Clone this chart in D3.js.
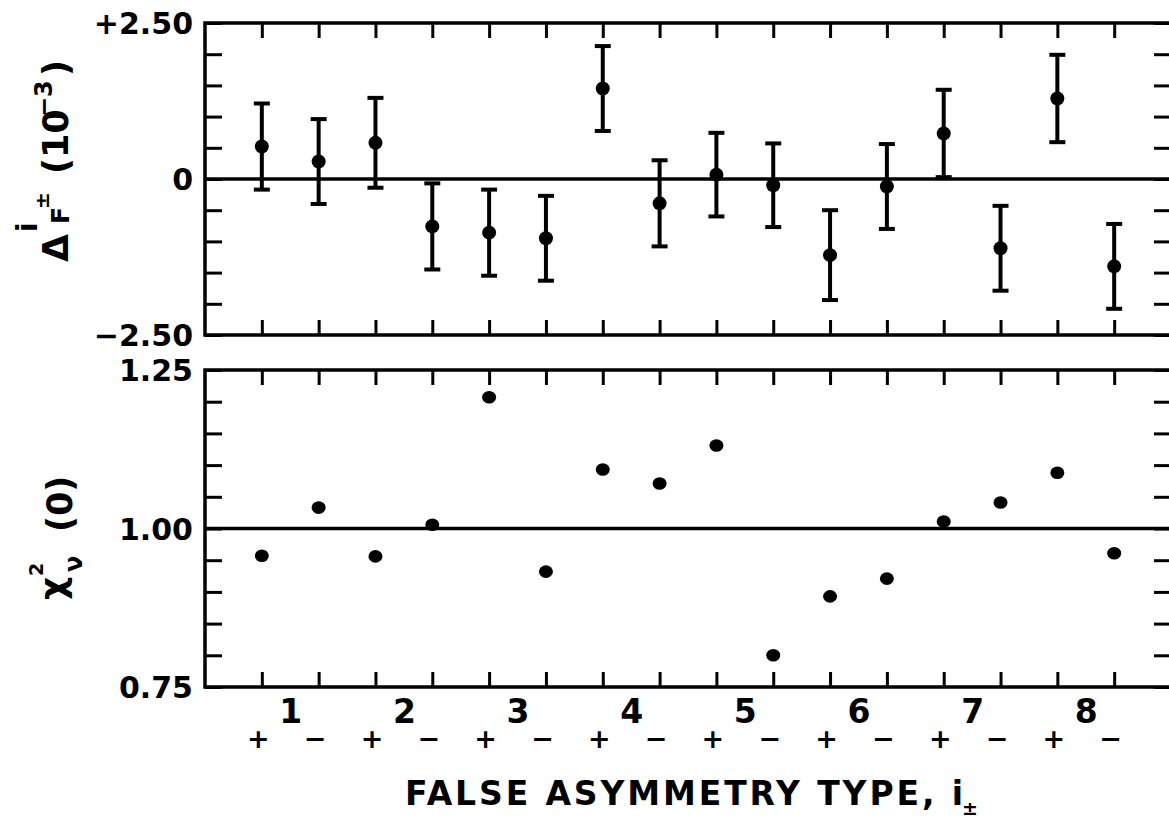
<!DOCTYPE html>
<html>
<head>
<meta charset="utf-8">
<script src="https://cdn.jsdelivr.net/npm/d3@7"></script>
<style>
  html, body { margin: 0; padding: 0; background: #fff; }
  svg { display: block; }
  text { font-family: "DejaVu Sans", "Liberation Sans", sans-serif; font-weight: bold; fill: #000; }
</style>
</head>
<body>
<svg id="chart" width="1169" height="820"></svg>
<script>
// False-asymmetry types: eight types, each with a + and − component
const typeLabels = ["1", "2", "3", "4", "5", "6", "7", "8"];
const signLabels = ["+", "−", "+", "−", "+", "−", "+", "−", "+", "−", "+", "−", "+", "−", "+", "−"];

// Upper panel: Δ^i_F± in units of 10^-3, with one-sigma errors
const deltaValues = [0.52, 0.28, 0.58, -0.76, -0.86, -0.95, 1.45, -0.39,
                     0.07, -0.10, -1.22, -0.12, 0.73, -1.11, 1.29, -1.40];
const deltaErrors = [0.69, 0.68, 0.72, 0.69, 0.69, 0.68, 0.68, 0.69,
                     0.67, 0.67, 0.72, 0.68, 0.70, 0.68, 0.70, 0.68];

// Lower panel: reduced chi-square of the zero hypothesis
const chiValues = [0.957, 1.033, 0.956, 1.006, 1.207, 0.932, 1.093, 1.071,
                   1.131, 0.800, 0.893, 0.921, 1.011, 1.041, 1.088, 0.961];

// Axis tick values
const deltaTicks = d3.range(-2.5, 2.5001, 0.5);
const deltaLabelTicks = [-2.5, 0, 2.5];
const chiTicks = d3.range(0.75, 1.2501, 0.05);
const chiLabelTicks = [0.75, 1.00, 1.25];

const svg = d3.select("#chart");
const idx = d3.range(1, deltaValues.length + 1);

const left = 205, right = 1171;
const x = d3.scaleLinear().domain([0, 17]).range([left, right]);

const top1 = 23, bot1 = 335, top2 = 370, bot2 = 687;
const yD = d3.scaleLinear().domain([-2.5, 2.5]).range([bot1, top1]);
const yC = d3.scaleLinear().domain([0.75, 1.25]).range([bot2, top2]);

const frameW = 3.5, tickW = 3;

function styleAxis(g) {
  g.select(".domain").remove();
  g.selectAll(".tick line").attr("stroke", "#000").attr("stroke-width", tickW);
}

function panel(y, ticks, labelTicks, fmt, refValue, y0, y1) {
  // inward x ticks on top and bottom edges
  svg.append("g").attr("transform", `translate(0,${y0})`)
    .call(d3.axisBottom(x).tickValues(idx).tickSize(15).tickFormat(""))
    .call(styleAxis);
  svg.append("g").attr("transform", `translate(0,${y1})`)
    .call(d3.axisTop(x).tickValues(idx).tickSize(15).tickFormat(""))
    .call(styleAxis);
  // inward y ticks on left and right edges
  svg.append("g").attr("transform", `translate(${left},0)`)
    .call(d3.axisRight(y).tickValues(ticks).tickSize(17).tickFormat(""))
    .call(styleAxis);
  svg.append("g").attr("transform", `translate(${right},0)`)
    .call(d3.axisLeft(y).tickValues(ticks).tickSize(17).tickFormat(""))
    .call(styleAxis);
  // tick labels
  const lab = svg.append("g").attr("transform", `translate(${left},0)`)
    .call(d3.axisLeft(y).tickValues(labelTicks).tickSize(0).tickPadding(12).tickFormat(fmt));
  lab.select(".domain").remove();
  lab.attr("font-family", null).attr("font-size", null);
  lab.selectAll("text")
    .attr("font-size", 30)
    .attr("dy", "0.36em")
    .attr("fill", "#000");
  // reference line
  svg.append("line")
    .attr("x1", left).attr("x2", right)
    .attr("y1", y(refValue)).attr("y2", y(refValue))
    .attr("stroke", "#000").attr("stroke-width", frameW);
  // frame
  svg.append("rect")
    .attr("x", left).attr("y", y0)
    .attr("width", right - left).attr("height", y1 - y0)
    .attr("fill", "none").attr("stroke", "#000").attr("stroke-width", frameW);
}

panel(yD, deltaTicks, deltaLabelTicks,
  d => d > 0 ? "+" + d3.format(".2f")(d) : d < 0 ? "−" + d3.format(".2f")(-d) : "0",
  0, top1, bot1);
panel(yC, chiTicks, chiLabelTicks, d3.format(".2f"), 1.0, top2, bot2);

// Error bars
const eb = svg.append("g").attr("stroke", "#000").attr("stroke-width", 4);
idx.forEach((k, i) => {
  const cx = x(k), hi = yD(deltaValues[i] + deltaErrors[i]), lo = yD(deltaValues[i] - deltaErrors[i]);
  eb.append("line").attr("x1", cx).attr("x2", cx).attr("y1", hi).attr("y2", lo);
  eb.append("line").attr("x1", cx - 8).attr("x2", cx + 8).attr("y1", hi).attr("y2", hi);
  eb.append("line").attr("x1", cx - 8).attr("x2", cx + 8).attr("y1", lo).attr("y2", lo);
});
svg.append("g").selectAll("circle").data(deltaValues).join("circle")
  .attr("cx", (d, i) => x(idx[i])).attr("cy", d => yD(d)).attr("r", 7).attr("fill", "#000");

svg.append("g").selectAll("ellipse").data(chiValues).join("ellipse")
  .attr("cx", (d, i) => x(idx[i])).attr("cy", d => yC(d)).attr("rx", 7).attr("ry", 6.3).attr("fill", "#000");

// X axis labels: sign row under each tick, type numbers between pairs
const signAxis = svg.append("g").attr("transform", `translate(-4,${bot2})`)
  .call(d3.axisBottom(x).tickValues(idx).tickSize(0).tickPadding(61)
    .tickFormat((d, i) => signLabels[i]));
signAxis.select(".domain").remove();
signAxis.attr("font-family", null).attr("font-size", null);
signAxis.selectAll("text").attr("font-size", 27).attr("fill", "#000").attr("dy", "0");

const typeAxis = svg.append("g").attr("transform", `translate(0,${bot2})`)
  .call(d3.axisBottom(x).tickValues(typeLabels.map((t, i) => 2 * i + 1.5)).tickSize(0).tickPadding(36)
    .tickFormat((d, i) => typeLabels[i]));
typeAxis.select(".domain").remove();
typeAxis.attr("font-family", null).attr("font-size", null);
typeAxis.selectAll("text").attr("font-size", 33).attr("fill", "#000").attr("dy", "0");

// X axis title
svg.append("text")
  .attr("x", 405).attr("y", 805)
  .attr("font-size", 33)
  .attr("textLength", 558).attr("lengthAdjust", "spacing")
  .text("FALSE ASYMMETRY TYPE, i");
svg.append("text")
  .attr("x", 970).attr("y", 815).attr("text-anchor", "middle")
  .attr("font-size", 19)
  .text("±");

// Upper Y title: Δ^i_F± (10^-3), reading upward
const t1 = svg.append("g").attr("transform", "translate(68,262) rotate(-90)");
t1.append("text").attr("x", 0).attr("y", 0).attr("font-size", 36).text("Δ");
t1.append("text").attr("x", 30).attr("y", -31).attr("font-size", 28).text("i");
t1.append("text").attr("x", 38).attr("y", 1).attr("font-size", 25).text("F");
t1.append("text").attr("x", 53).attr("y", -19).attr("font-size", 20).text("±");
t1.append("text").attr("x", 88).attr("y", 0).attr("font-size", 35).text("(10");
t1.append("text").attr("x", 145).attr("y", -16).attr("font-size", 24).text("−3");
t1.append("text").attr("x", 186).attr("y", 0).attr("font-size", 35).text(")");

// Lower Y title: χ²_ν (0)
const t2 = svg.append("g").attr("transform", "translate(72,600) rotate(-90)");
t2.append("text").attr("x", 0).attr("y", -7).attr("font-size", 36).text("χ");
t2.append("text").attr("x", 24).attr("y", -29).attr("font-size", 19).text("2");
t2.append("text").attr("x", 28).attr("y", 10).attr("font-size", 24).text("ν");
t2.append("text").attr("x", 68).attr("y", 0).attr("font-size", 35).text("(0)");
</script>
</body>
</html>
